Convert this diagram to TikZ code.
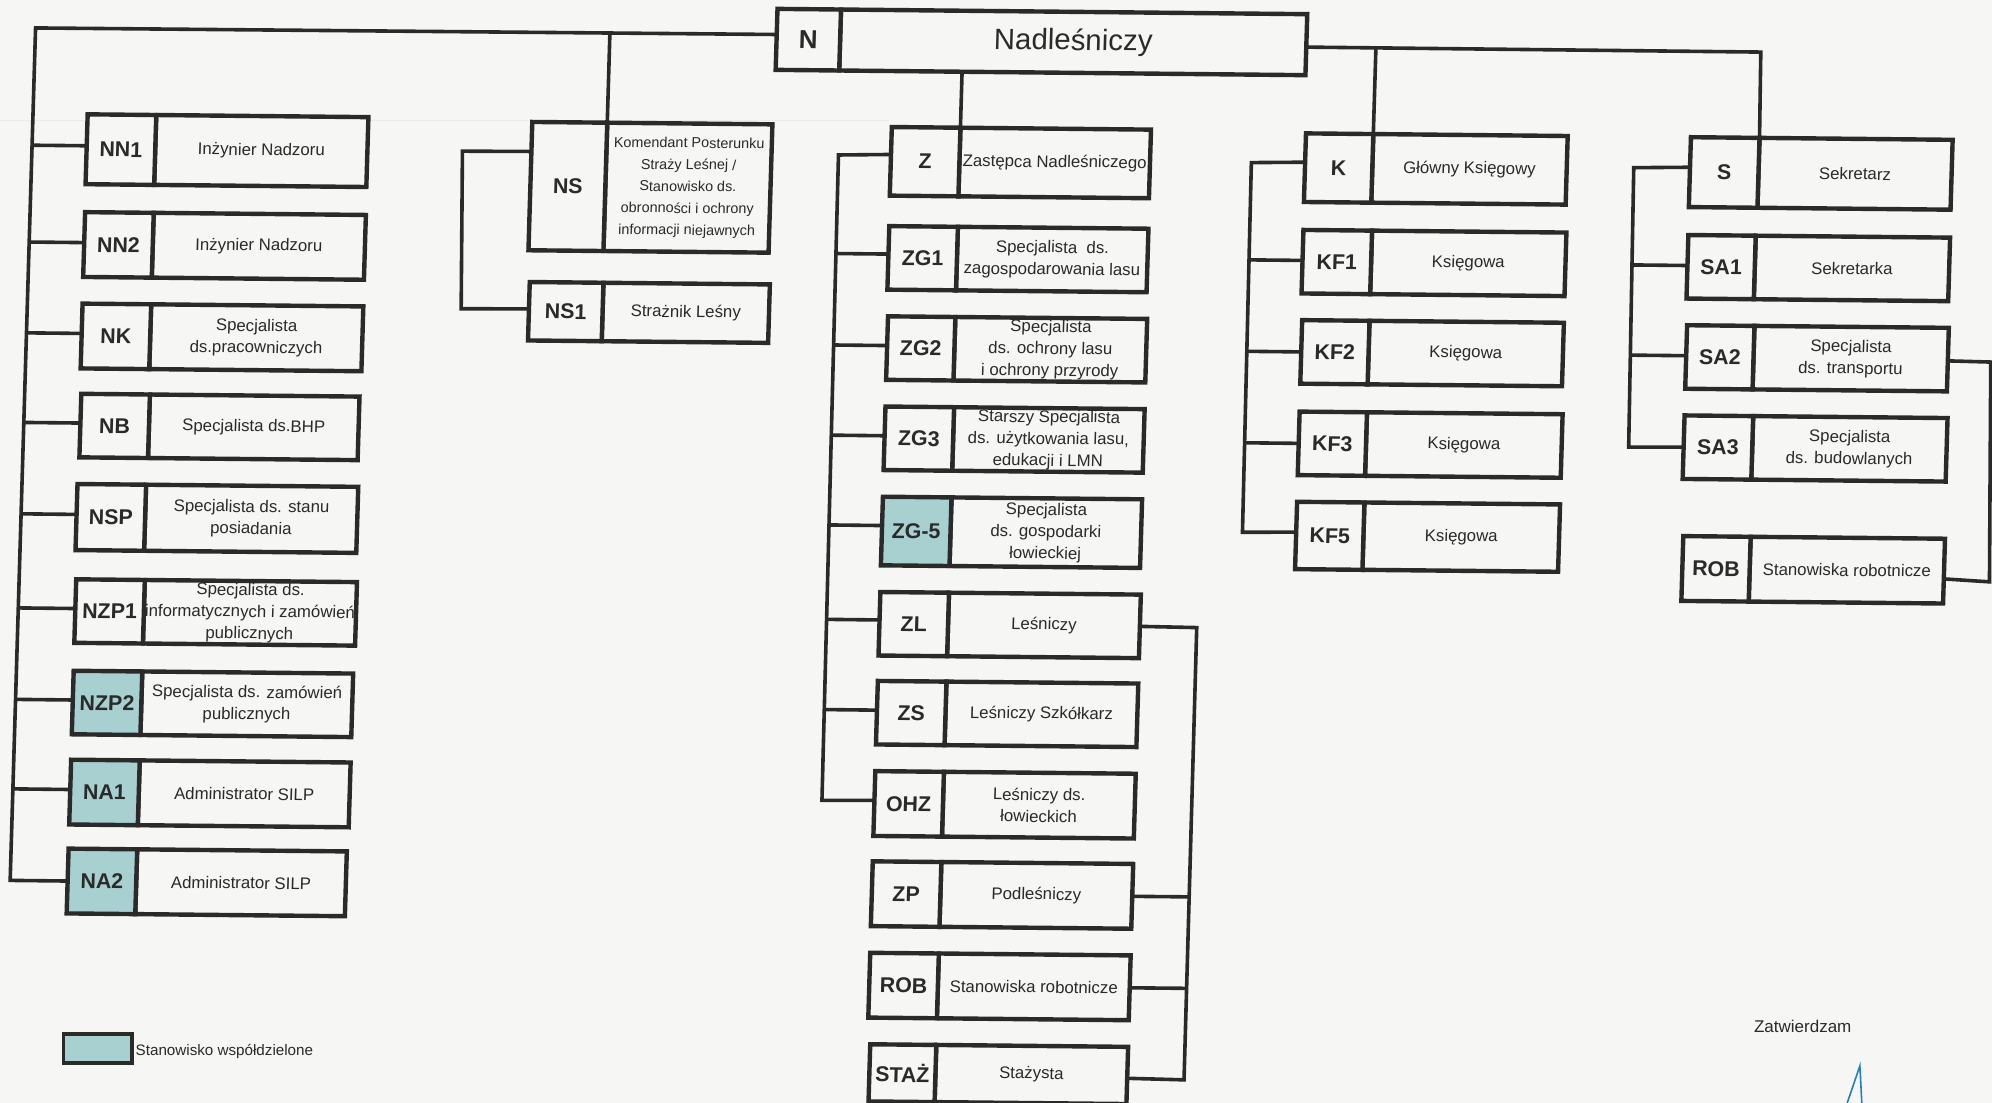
\documentclass[tikz,border=0pt]{standalone}
\usepackage{fontspec}
\setmainfont{Liberation Sans}
\usetikzlibrary{calc}
\definecolor{ink}{HTML}{2A2A2A}
\definecolor{shared}{HTML}{A8D0D0}
\definecolor{paper}{HTML}{F6F6F4}
\definecolor{sig}{HTML}{2080C0}
\tikzset{
  x=0.63520pt,y=-0.63520pt,
  skewed/.style={cm={1,-0.010,0.03,1,(0,0)}},
  cell/.style={draw=ink,line width=2.2pt,rectangle,inner sep=0pt,outer sep=0pt,transform shape,anchor=north west,align=center,text=ink},
  codecell/.style={cell,font=\fontsize{10.7}{13}\selectfont\bfseries},
  textcell/.style={cell,font=\fontsize{8.4}{10.9}\selectfont},
  conn/.style={draw=ink,line width=1.8pt,line join=miter},
  plainfill/.style={fill=paper},
  sharedfill/.style={fill=shared}
}
\newcommand{\orgbox}[9][plainfill]{%
  % style, name, X, Y, xdiv, xright, h, code, text
  \begin{scope}[shift={(#3+1,#4)},skewed]
    \node[textcell,plainfill,minimum width={(#6-#5-2)*0.6352pt},minimum height={#7*0.6352pt}] (#2t) at ({#5-#3},0) {#9};
    \node[codecell,#1,minimum width={(#5-#3)*0.6352pt},minimum height={#7*0.6352pt}] (#2c) at (0,0) {#8};
  \end{scope}}
\newcommand{\stubL}[4]{% name, frac, bus A, bus B
  \coordinate (tmpa) at ($(#1c.north west)!#2!(#1c.south west)$);
  \coordinate (tmpb) at ($(#1c.north east)!#2!(#1c.south east)$);
  \draw[conn] (tmpa) -- (intersection of tmpa--tmpb and #3--#4);}
\newcommand{\stubR}[4]{%
  \coordinate (tmpa) at ($(#1t.north west)!#2!(#1t.south west)$);
  \coordinate (tmpb) at ($(#1t.north east)!#2!(#1t.south east)$);
  \draw[conn] (tmpb) -- (intersection of tmpa--tmpb and #3--#4);}
\newcommand{\sm}{\fontsize{7.2}{10.9}\selectfont}
\begin{document}
\begin{tikzpicture}
\useasboundingbox (0,0) rectangle (1568,868.2);
\fill[paper] (0,0) rectangle (1568,868.2);
\draw[color=black!8,line width=0.4pt] (0,95) -- (700,95);

% top box
\orgbox{n}{611}{7}{661}{1030}{48}{\fontsize{13}{16}\selectfont\bfseries N}{\fontsize{14.7}{17}\selectfont Nadleśniczy}

% left column
\orgbox{nn1}{68}{90}{122}{291}{55}{NN1}{Inżynier Nadzoru}
\orgbox{nn2}{66}{167}{120}{289}{51}{NN2}{Inżynier Nadzoru}
\orgbox{nk}{64}{239}{118}{287}{51}{NK}{Specjalista\\ds.pracowniczych}
\orgbox{nb}{63}{310}{117}{284}{50}{NB}{Specjalista ds.BHP}
\orgbox{nsp}{60}{381}{114}{283}{52}{NSP}{Specjalista ds. stanu\\posiadania}
\orgbox{nzpa}{59}{456}{113}{282}{50}{NZP1}{Specjalista ds.\\informatycznych i zamówień\\publicznych}
\orgbox[sharedfill]{nzpb}{57}{528}{111}{279}{50}{NZP2}{Specjalista ds. zamówień\\publicznych}
\orgbox[sharedfill]{naa}{55}{598}{109}{277}{51}{NA1}{Administrator SILP}
\orgbox[sharedfill]{nab}{53}{668}{107}{274}{51}{NA2}{Administrator SILP}

% NS group
\orgbox{ns}{418}{96}{477}{609}{101}{NS}{\sm Komendant Posterunku\\\sm Straży Leśnej /\\\sm Stanowisko ds.\\\sm obronności i ochrony\\\sm informacji niejawnych}
\orgbox{nsa}{416}{222}{474}{607}{46}{NS1}{Strażnik Leśny}

% Z column
\orgbox{z}{701}{100}{755}{907}{54}{Z}{Zastępca Nadleśniczego}
\orgbox{zga}{699}{178}{753}{905}{50}{ZG1}{Specjalista\ \ ds.\\zagospodarowania lasu}
\orgbox{zgb}{698}{249}{751}{904}{50}{ZG2}{Specjalista\\ds. ochrony lasu\\i ochrony przyrody}
\orgbox{zgc}{696}{320}{750}{902}{50}{ZG3}{Starszy Specjalista\\ds. użytkowania lasu,\\edukacji i LMN}
\orgbox[sharedfill]{zge}{694}{391}{748}{900}{54}{ZG-5}{Specjalista\\ds. gospodarki\\łowieckiej}
\orgbox{zl}{692}{466}{746}{899}{50}{ZL}{Leśniczy}
\orgbox{zs}{690}{536}{744}{897}{50}{ZS}{Leśniczy Szkółkarz}
\orgbox{ohz}{688}{607}{742}{895}{51}{OHZ}{Leśniczy ds.\\łowieckich}
\orgbox{zp}{686}{678}{740}{893}{51}{ZP}{Podleśniczy}
\orgbox{roba}{684}{750}{738}{891}{51}{ROB}{Stanowiska robotnicze}
\orgbox{staz}{684}{822}{736}{889}{45}{STAŻ}{Stażysta}

% K column
\orgbox{k}{1027}{105}{1080}{1235}{54}{K}{Główny Księgowy}
\orgbox{kfa}{1025}{181}{1079}{1234}{50}{KF1}{Księgowa}
\orgbox{kfb}{1024}{252}{1077}{1232}{50}{KF2}{Księgowa}
\orgbox{kfc}{1022}{324}{1075}{1231}{50}{KF3}{Księgowa}
\orgbox{kfe}{1020}{395}{1073}{1229}{53}{KF5}{Księgowa}

% S column
\orgbox{s}{1330}{108}{1384}{1538}{55}{S}{Sekretarz}
\orgbox{saa}{1328}{185}{1381}{1536}{50}{SA1}{Sekretarka}
\orgbox{sab}{1327}{256}{1380}{1535}{50}{SA2}{Specjalista\\ds. transportu}
\orgbox{sac}{1325}{327}{1379}{1534}{50}{SA3}{Specjalista\\ds. budowlanych}
\orgbox{robb}{1324}{422}{1377}{1532}{51}{ROB}{Stanowiska robotnicze}

% N connectors
\coordinate (nW) at ($(nc.north west)!0.42!(nc.south west)$);
\coordinate (nE) at ($(nt.north east)!0.54!(nt.south east)$);
\coordinate (lbT) at (28,22);
\coordinate (lbB) at (8,693);
\coordinate (sTurn) at (1386,41);
\draw[conn] (nW) -- (lbT) -- (lbB) -- ($(nabc.north west)!0.5!(nabc.south west)$);
\draw[conn] (nE) -- (sTurn) -- (st.north west);
\draw[conn] (nsc.north east) -- (intersection of nsc.north east--nsc.south east and nW--lbT);
\draw[conn] (zc.north east) -- (intersection of zc.north east--zc.south east and nt.south west--nt.south east);
\draw[conn] (kt.north west) -- (intersection of kt.north west--kt.south west and nE--sTurn);

% left bus
\stubL{nn1}{0.45}{lbT}{lbB}
\stubL{nn2}{0.47}{lbT}{lbB}
\stubL{nk}{0.46}{lbT}{lbB}
\stubL{nb}{0.46}{lbT}{lbB}
\stubL{nsp}{0.46}{lbT}{lbB}
\stubL{nzpa}{0.46}{lbT}{lbB}
\stubL{nzpb}{0.46}{lbT}{lbB}
\stubL{naa}{0.46}{lbT}{lbB}

% NS bus
\coordinate (nsTop) at ($(nsc.north west)!0.23!(nsc.south west)$);
\coordinate (nsBot) at ($(nsac.north west)!0.46!(nsac.south west)$);
\draw[conn] (nsTop) -- (364,119) -- (363,243) -- (nsBot);

% Z bus
\coordinate (zTop) at ($(zc.north west)!0.4!(zc.south west)$);
\coordinate (zBusT) at (660,122);
\coordinate (zBusB) at (647,630);
\draw[conn] (zTop) -- (zBusT) -- (zBusB) -- ($(ohzc.north west)!0.45!(ohzc.south west)$);
\stubL{zga}{0.44}{zBusT}{zBusB}
\stubL{zgb}{0.46}{zBusT}{zBusB}
\stubL{zgc}{0.46}{zBusT}{zBusB}
\stubL{zge}{0.42}{zBusT}{zBusB}
\stubL{zl}{0.44}{zBusT}{zBusB}
\stubL{zs}{0.46}{zBusT}{zBusB}

% ZL right bus
\coordinate (rTop) at (942,494);
\coordinate (rBot) at (932,850);
\draw[conn] ($(zlt.north east)!0.5!(zlt.south east)$) -- (rTop) -- (rBot) -- ($(stazt.north east)!0.55!(stazt.south east)$);
\stubR{zp}{0.5}{rTop}{rBot}
\stubR{roba}{0.5}{rTop}{rBot}

% K bus
\coordinate (kBusT) at (985,128);
\coordinate (kBusB) at (978,419);
\draw[conn] ($(kc.north west)!0.42!(kc.south west)$) -- (kBusT) -- (kBusB) -- ($(kfec.north west)!0.45!(kfec.south west)$);
\stubL{kfa}{0.48}{kBusT}{kBusB}
\stubL{kfb}{0.5}{kBusT}{kBusB}
\stubL{kfc}{0.5}{kBusT}{kBusB}

% S bus
\coordinate (sBusT) at (1286,132);
\coordinate (sBusB) at (1282,352);
\draw[conn] ($(sc.north west)!0.43!(sc.south west)$) -- (sBusT) -- (sBusB) -- ($(sacc.north west)!0.5!(sacc.south west)$);
\stubL{saa}{0.48}{sBusT}{sBusB}
\stubL{sab}{0.48}{sBusT}{sBusB}

% SA2 to ROB
\draw[conn] ($(sabt.north east)!0.52!(sabt.south east)$) -- (1567,285) -- (1566,458) -- ($(robbt.north east)!0.62!(robbt.south east)$);

% legend
\node[draw=ink,line width=1.9pt,fill=shared,minimum width={54*0.6352pt},minimum height={23*0.6352pt},inner sep=0pt,outer sep=0pt,anchor=north west] (legendbox) at (50,814) {};
\node[anchor=west,inner sep=0pt,text=ink,font=\fontsize{7.6}{9}\selectfont] (legendtext) at (106.5,827.5) {Stanowisko współdzielone};

% approval
\node[inner sep=0pt,text=ink,font=\fontsize{8.5}{10}\selectfont] (approve) at (1419,808) {Zatwierdzam};
\draw[sig,line width=0.8pt] (1454,868.2) -- (1464,839) -- (1465.5,868.2);
\end{tikzpicture}
\end{document}
